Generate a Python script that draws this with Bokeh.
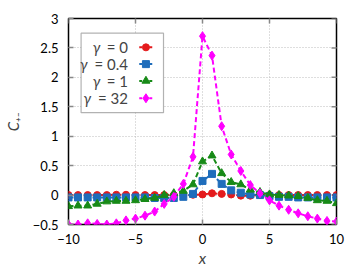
import math
from bokeh.plotting import figure
from bokeh.models import Range1d, FixedTicker, BoxAnnotation, Label
from bokeh.embed import file_html
from bokeh.resources import INLINE

# ---------------- data ----------------
x = [-10, -9.29, -8.57, -7.86, -7.14, -6.43, -5.71, -5.0, -4.29, -3.57, -2.86, -2.14,
     -1.43, -0.71, 0.0, 0.71, 1.43, 2.14, 2.86, 3.57, 4.29, 5.0, 5.71, 6.43, 7.14,
     7.86, 8.57, 9.29, 10]

c_g0 = [0.0, 0.0, 0.0, 0.0, 0.0, 0.005, 0.005, 0.0, 0.0, 0.0, 0.0, 0.0,
        0.0, 0.005, 0.01, 0.03, 0.02, 0.01, -0.01, -0.01, 0.0, 0.0, 0.0, 0.0, 0.0,
        0.0, 0.0, 0.0, 0.0]
c_g04 = [-0.04, -0.04, -0.04, -0.04, -0.04, -0.04, -0.04, -0.04, -0.04, -0.05, -0.05, -0.05,
         -0.03, 0.02, 0.24, 0.36, 0.19, 0.08, 0.04, 0.01, 0.0, -0.02, -0.03, -0.03, -0.04,
         -0.04, -0.04, -0.04, -0.04]
c_g1 = [-0.19, -0.18, -0.18, -0.15, -0.11, -0.10, -0.10, -0.09, -0.07, -0.05, 0.0, 0.03,
        0.07, 0.18, 0.57, 0.67, 0.37, 0.22, 0.18, 0.09, 0.05, 0.01, 0.0, -0.01, -0.02,
        -0.05, -0.09, -0.10, -0.14]
c_g32 = [-0.50, -0.50, -0.48, -0.49, -0.50, -0.48, -0.43, -0.40, -0.35, -0.28, -0.15, -0.03,
         0.19, 0.65, 2.70, 2.37, 1.17, 0.69, 0.41, 0.17, 0.03, -0.09, -0.18, -0.25, -0.31,
         -0.36, -0.40, -0.44, -0.45]

gamma_values = ["0", "0.4", "1", "32"]
series = [c_g0, c_g04, c_g1, c_g32]

x_ticks = [-10, -5, 0, 5, 10]
x_tick_labels = ["\u221210", "\u22125", "0", "5", "10"]
y_ticks = [-0.5, 0, 0.5, 1, 1.5, 2, 2.5, 3]
y_tick_labels = ["\u22120.5", "0", "0.5", "1", "1.5", "2", "2.5", "3"]

# ---------------- styles ----------------
FONT = "Lato"
colors = ["#e41a1c", "#1f6dbb", "#178a17", "#ff00ff"]
markers = ["circle", "square", "triangle", "diamond"]
msizes = [7, 7, 8, 9]
TICK = "#888888"

p = figure(width=354, height=275, x_range=Range1d(-10, 10), y_range=Range1d(-0.5, 3),
           output_backend="svg", toolbar_location=None,
           min_border_left=66, min_border_right=18, min_border_top=18, min_border_bottom=51)
p.outline_line_color = "black"
p.outline_line_width = 1.5
p.background_fill_color = "white"

for ax, ticks, labels in ((p.xaxis[0], x_ticks, x_tick_labels), (p.yaxis[0], y_ticks, y_tick_labels)):
    ax.ticker = FixedTicker(ticks=ticks)
    ax.major_label_overrides = {t: l for t, l in zip(ticks, labels)}
    ax.major_tick_in = 5
    ax.major_tick_out = 0
    ax.minor_tick_line_color = None
    ax.major_tick_line_color = TICK
    ax.major_tick_line_width = 1.5
    ax.axis_line_color = None
    ax.major_label_text_font = FONT
    ax.major_label_text_font_size = "13px"
    ax.major_label_text_color = "black"
    ax.axis_label_text_font = FONT
    ax.axis_label_text_font_style = "italic"

p.xaxis.axis_label = "x"
p.xaxis.axis_label_text_font_size = "16px"
p.xaxis.major_label_standoff = 9
p.xaxis.axis_label_standoff = 1
p.yaxis.axis_label = "C\u208a\u208b"
p.yaxis.axis_label_text_font_size = "15px"
p.yaxis.major_label_standoff = 10
p.yaxis.axis_label_standoff = 8

p.xgrid[0].ticker = FixedTicker(ticks=x_ticks)
p.ygrid[0].ticker = FixedTicker(ticks=y_ticks)
for g in (p.xgrid[0], p.ygrid[0]):
    g.grid_line_color = "#bdbdbd"
    g.grid_line_dash = "1 2"
    g.grid_line_width = 1

# mirrored inward ticks on the right and top edges (half of each dash is clipped by the frame)
p.scatter([x_ticks[-1]] * len(y_ticks), y_ticks, marker="dash", size=10,
          line_color=TICK, line_width=1.5)
p.scatter(x_ticks, [y_ticks[-1]] * len(x_ticks), marker="dash", size=10, angle=math.pi / 2,
          line_color=TICK, line_width=1.5)

for ys, col, mk, ms in zip(series, colors, markers, msizes):
    p.line(x, ys, line_color=col, line_width=2, line_dash="5 3")
    p.scatter(x, ys, marker=mk, size=ms, fill_color=col, line_color=col)

# ---------------- legend (gnuplot style: text left, sample right) ----------------
box = BoxAnnotation(left=-9.06, right=-2.91, top=2.75, bottom=1.40,
                    fill_color="white", fill_alpha=1.0, line_color="black", line_width=1.2)
p.add_layout(box)

row_y = [2.51, 2.225, 1.94, 1.645]
gamma_right = [-7.62, -8.58, -7.62, -8.32]
text_right = -5.56
for gv, yy, gr, col, mk, ms in zip(gamma_values, row_y, gamma_right, colors, markers, msizes):
    p.add_layout(Label(x=gr, y=yy, text="\u03b3", text_font=FONT, text_font_size="15px",
                       text_font_style="italic", text_align="right", text_baseline="middle"))
    p.add_layout(Label(x=text_right, y=yy, text="= " + gv, text_font=FONT, text_font_size="15px",
                       text_align="right", text_baseline="middle"))
    p.line([-4.72, -3.73], [yy, yy], line_color=col, line_width=2, line_dash="3 2", level="overlay")
    p.scatter([-4.22], [yy], marker=mk, size=ms, fill_color=col, line_color=col, level="overlay")

open("out.html", "w").write(file_html(p, INLINE))
